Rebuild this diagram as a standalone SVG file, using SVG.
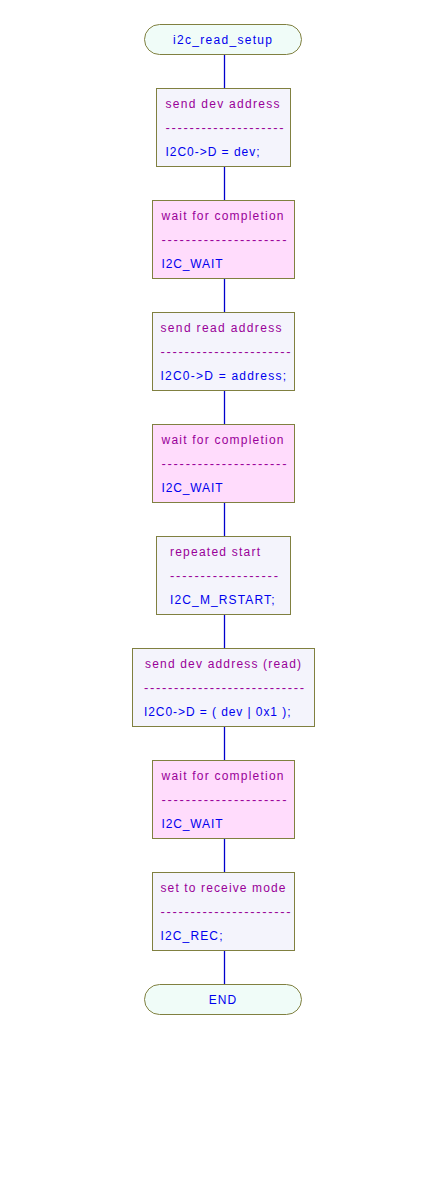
<svg xmlns="http://www.w3.org/2000/svg" width="448" height="1184" viewBox="0 0 448 1184">
<style>
text{font-family:"Liberation Sans",Arial,sans-serif;font-size:12px}
.t{fill:#990099}
.d{fill:#990099;font-size:13px}
.c{fill:#0000ee}
.n{fill:#f4f4fc;stroke:#808040;stroke-width:1}
.p{fill:#ffdcfc;stroke:#808040;stroke-width:1}
.term{fill:#f0fcf8;stroke:#808040;stroke-width:1}
.e{stroke:#0000cc;stroke-width:1.3;fill:none}
</style>
<rect width="448" height="1184" fill="#ffffff"/>
<g id="connectors">
<line class="e" x1="224.5" y1="54.5" x2="224.5" y2="88.5"/>
<line class="e" x1="224.5" y1="166.5" x2="224.5" y2="200.5"/>
<line class="e" x1="224.5" y1="278.5" x2="224.5" y2="312.5"/>
<line class="e" x1="224.5" y1="390.5" x2="224.5" y2="424.5"/>
<line class="e" x1="224.5" y1="502.5" x2="224.5" y2="536.5"/>
<line class="e" x1="224.5" y1="614.5" x2="224.5" y2="648.5"/>
<line class="e" x1="224.5" y1="726.5" x2="224.5" y2="760.5"/>
<line class="e" x1="224.5" y1="838.5" x2="224.5" y2="872.5"/>
<line class="e" x1="224.5" y1="950.5" x2="224.5" y2="984.5"/>
</g>
<g id="start">
<rect class="term" x="144.5" y="24.5" width="157" height="30" rx="15" ry="15"/>
<text class="c" x="222.5" y="44" text-anchor="middle" textLength="99" lengthAdjust="spacing">i2c_read_setup</text>
</g>
<g id="n1">
<rect class="n" x="156.5" y="88.5" width="134" height="78"/>
<text class="t" x="165.5" y="107.5" textLength="114" lengthAdjust="spacing">send dev address</text>
<text class="d" x="165.5" y="132" textLength="118" lengthAdjust="spacing">--------------------</text>
<text class="c" x="165.5" y="155.5" textLength="94" lengthAdjust="spacing">I2C0-&gt;D = dev;</text>
</g>
<g id="n2">
<rect class="p" x="152.5" y="200.5" width="142" height="78"/>
<text class="t" x="161.5" y="219.5" textLength="122" lengthAdjust="spacing">wait for completion</text>
<text class="d" x="161.5" y="244" textLength="125" lengthAdjust="spacing">---------------------</text>
<text class="c" x="161.5" y="267.5" textLength="61" lengthAdjust="spacing">I2C_WAIT</text>
</g>
<g id="n3">
<rect class="n" x="152.5" y="312.5" width="142" height="78"/>
<text class="t" x="160.5" y="331.5" textLength="121" lengthAdjust="spacing">send read address</text>
<text class="d" x="160.5" y="356" textLength="130" lengthAdjust="spacing">----------------------</text>
<text class="c" x="160.5" y="379.5" textLength="125.5" lengthAdjust="spacing">I2C0-&gt;D = address;</text>
</g>
<g id="n4">
<rect class="p" x="152.5" y="424.5" width="142" height="78"/>
<text class="t" x="161.5" y="443.5" textLength="122" lengthAdjust="spacing">wait for completion</text>
<text class="d" x="161.5" y="468" textLength="125" lengthAdjust="spacing">---------------------</text>
<text class="c" x="161.5" y="491.5" textLength="61" lengthAdjust="spacing">I2C_WAIT</text>
</g>
<g id="n5">
<rect class="n" x="156.5" y="536.5" width="134" height="78"/>
<text class="t" x="170" y="555.5" textLength="90" lengthAdjust="spacing">repeated start</text>
<text class="d" x="170" y="580" textLength="108" lengthAdjust="spacing">------------------</text>
<text class="c" x="170" y="603.5" textLength="104.5" lengthAdjust="spacing">I2C_M_RSTART;</text>
</g>
<g id="n6">
<rect class="n" x="132.5" y="648.5" width="182" height="78"/>
<text class="t" x="145" y="667.5" textLength="156" lengthAdjust="spacing">send dev address (read)</text>
<text class="d" x="144" y="692" textLength="160" lengthAdjust="spacing">---------------------------</text>
<text class="c" x="144" y="715.5" textLength="146.5" lengthAdjust="spacing">I2C0-&gt;D = ( dev | 0x1 );</text>
</g>
<g id="n7">
<rect class="p" x="152.5" y="760.5" width="142" height="78"/>
<text class="t" x="161.5" y="779.5" textLength="122" lengthAdjust="spacing">wait for completion</text>
<text class="d" x="161.5" y="804" textLength="125" lengthAdjust="spacing">---------------------</text>
<text class="c" x="161.5" y="827.5" textLength="61" lengthAdjust="spacing">I2C_WAIT</text>
</g>
<g id="n8">
<rect class="n" x="152.5" y="872.5" width="142" height="78"/>
<text class="t" x="160.5" y="891.5" textLength="125" lengthAdjust="spacing">set to receive mode</text>
<text class="d" x="160.5" y="916" textLength="130" lengthAdjust="spacing">----------------------</text>
<text class="c" x="160.5" y="939.5" textLength="62" lengthAdjust="spacing">I2C_REC;</text>
</g>
<g id="end">
<rect class="term" x="144.5" y="984.5" width="157" height="30" rx="15" ry="15"/>
<text class="c" x="222.5" y="1004" text-anchor="middle" textLength="27.5" lengthAdjust="spacing">END</text>
</g>
</svg>
